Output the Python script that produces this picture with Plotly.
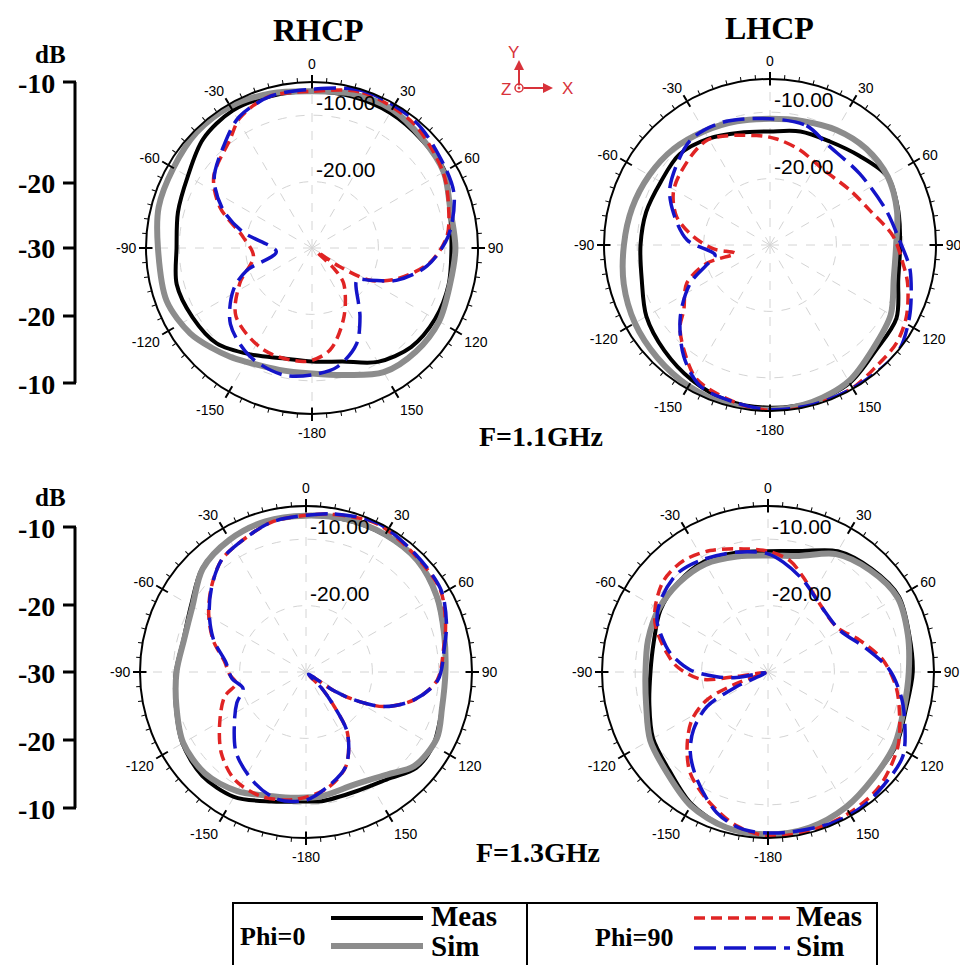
import plotly.graph_objects as go

W, H = 960, 965

# ---------------- data (dB vs angle in degrees) ----------------
STEP15 = list(range(0, 361, 15))

# RHCP 1.1 GHz
rh11_phi0_meas_t = STEP15
rh11_phi0_meas_r = [-6.4, -6.4, -6.5, -6.8, -6.9, -8.5, -9.0, -8.7, -8.6, -8.9, -10.2, -12.3, -12.9,
                    -12.8, -11.5, -9.7, -9.2, -8.9, -9.6, -9.1, -8.4, -6.8, -6.1, -6.3, -6.4]
rh11_phi0_sim_t = [0, 15, 30, 45, 60, 75, 90, 105, 120, 135, 150, 165, 180, 195, 210, 217, 225, 235,
                   250, 270, 285, 300, 315, 330, 345, 360]
rh11_phi0_sim_r = [-6.4, -6.0, -5.9, -6.6, -7.1, -8.4, -8.4, -8.5, -7.9, -7.9, -8.4, -10.2, -11.1,
                   -11.0, -10.2, -9.5, -8.7, -7.6, -6.7, -6.8, -6.1, -5.9, -5.4, -5.4, -5.9, -6.4]
rh11_phi90_meas_t = [0, 18, 39, 60, 73, 85, 97, 110, 119, 124, 128, 133, 138, 155, 170, 183, 205, 228,
                     244, 262, 279, 294, 306, 323, 331, 344, 360]
rh11_phi90_meas_r = [-6.4, -5.4, -5.8, -7.2, -8.5, -9.6, -12.1, -16.4, -20.0, -25.0, -29.0, -25.5,
                     -22.9, -18.6, -14.4, -12.9, -13.0, -14.6, -17.9, -21.1, -19.5, -14.8, -11.7,
                     -9.5, -7.6, -6.3, -6.4]
rh11_phi90_sim_t = [0, 18, 39, 55, 69, 85, 99, 111, 119, 125.6, 140, 145, 155, 168, 180, 193, 210,
                    227, 242, 251, 264, 283, 293, 305, 319, 331, 345, 360]
rh11_phi90_sim_r = [-6.1, -5.1, -5.4, -6.4, -7.1, -9.4, -12.5, -16.4, -20.0, -21.7, -19.1, -17.4,
                    -14.1, -11.7, -10.9, -10.4, -11.2, -13.2, -16.6, -19.6, -24.6, -19.3, -15.5,
                    -12.0, -9.7, -7.4, -6.3, -6.1]

# LHCP 1.1 GHz
lh11_phi0_meas_t = STEP15
lh11_phi0_meas_r = [-12.9, -12.3, -12.0, -11.0, -9.5, -10.0, -10.4, -10.0, -8.0, -7.5, -6.0, -5.5,
                    -5.5, -5.7, -6.5, -7.5, -8.5, -10.0, -10.5, -10.7, -11.0, -10.7, -11.5, -12.5,
                    -12.9]
lh11_phi0_sim_t = STEP15
lh11_phi0_sim_r = [-11.0, -10.7, -10.0, -9.5, -9.5, -10.2, -11.0, -10.7, -9.0, -8.0, -6.3, -5.5,
                   -5.2, -5.2, -5.5, -6.0, -6.5, -7.2, -8.0, -8.5, -9.0, -9.5, -10.2, -10.7, -11.0]
lh11_phi90_meas_t = [3.6, 17.5, 35.4, 55.5, 70.7, 86, 97.8, 105.5, 117.7, 127.8, 138.8, 151, 168.5,
                     180, 191.9, 208.5, 219.5, 227.8, 233, 245.3, 253.9, 256.6, 266, 276.2, 286.9,
                     298, 308.5, 329, 353, 363.6]
lh11_phi90_meas_r = [-14.0, -15.0, -16.1, -15.4, -14.1, -11.4, -9.8, -8.5, -6.8, -5.9, -5.7, -5.1,
                     -5.0, -5.1, -5.7, -6.95, -9.6, -11.7, -13.75, -16.2, -20.1, -24.6, -21.5,
                     -18.4, -15.3, -13.5, -12.7, -11.6, -13.4, -14.0]
lh11_phi90_sim_t = [0, 17, 30, 51.5, 73.3, 87.8, 98.8, 105, 117, 128.9, 138.7, 151, 165, 180, 192,
                    206.3, 217.8, 231.5, 244.4, 252.5, 259.7, 273.4, 288, 300, 322.7, 339.3, 360]
lh11_phi90_sim_r = [-11.0, -11.2, -12.6, -12.75, -11.75, -10.5, -8.75, -8.0, -6.4, -4.95, -5.0,
                    -5.1, -5.1, -5.2, -5.7, -6.3, -8.8, -12.75, -16.7, -20.0, -21.6, -17.5, -14.75,
                    -12.6, -10.2, -10.2, -11.0]

# RHCP 1.3 GHz
rh13_phi0_meas_t = [0, 15, 30, 45, 60, 75, 90, 105, 120, 131, 141.6, 156.8, 173, 180, 195, 210, 225,
                    240, 255, 270, 285, 300, 315, 330, 345, 360]
rh13_phi0_meas_r = [-6.5, -6.3, -6.2, -6.3, -7.3, -8.5, -9.0, -8.8, -7.9, -8.0, -9.6, -10.5, -10.4,
                    -10.5, -9.8, -8.3, -7.9, -8.5, -9.7, -10.4, -10.9, -10.0, -7.9, -7.0, -6.6, -6.5]
rh13_phi0_sim_t = [0, 15, 30, 45, 60, 75, 90, 105, 117, 131, 141.6, 156.8, 173, 185, 195, 210, 225,
                   240, 255, 270, 285, 300, 315, 330, 345, 360]
rh13_phi0_sim_r = [-6.45, -6.2, -6.1, -6.25, -7.25, -8.45, -9.0, -8.8, -7.9, -8.4, -10.3, -11.55,
                   -11.15, -11.0, -10.65, -9.3, -8.45, -8.65, -9.8, -10.5, -11.0, -10.25, -8.0,
                   -7.0, -6.5, -6.45]
rh13_phi90_meas_t = [0, 10.3, 25.7, 43.3, 58.7, 70.8, 79.6, 93.5, 104.5, 113.9, 120, 124, 130, 136,
                     140.7, 145.8, 157, 169.4, 185.2, 199.8, 213.6, 226.3, 239.4, 253.2, 260.8,
                     268, 277.2, 289, 301, 311.9, 322.8, 332, 346.9, 360]
rh13_phi90_meas_r = [-6.4, -5.9, -5.25, -5.95, -6.3, -7.75, -8.9, -10.2, -13.2, -17.15, -21.6,
                     -25.0, -29.5, -26.5, -23.3, -18.9, -14.6, -12.25, -10.7, -10.1, -10.55,
                     -12.35, -14.9, -17.2, -19.35, -18.5, -17.65, -15.2, -12.9, -10.85, -8.9,
                     -8.15, -6.85, -6.4]
rh13_phi90_sim_t = [0, 10.3, 25.7, 43.3, 58.7, 70.8, 79.6, 93.5, 104.5, 113.9, 120, 124, 130, 136,
                    140.7, 145.8, 157, 169.4, 180, 192.5, 204.9, 220.7, 236.2, 246, 255.5, 265,
                    277.2, 289, 301, 311.9, 322.8, 332, 346.9, 360]
rh13_phi90_sim_r = [-6.4, -5.8, -5.1, -5.8, -6.2, -7.6, -8.8, -10.1, -13.2, -17.15, -21.6, -25.0,
                    -29.5, -26.5, -23.3, -18.9, -14.6, -12.4, -10.7, -10.35, -11.6, -13.9, -17.05,
                    -18.6, -20.2, -18.8, -17.8, -15.3, -13.0, -10.9, -8.9, -8.15, -6.85, -6.4]

# LHCP 1.3 GHz
lh13_phi0_meas_t = STEP15
lh13_phi0_meas_r = [-11.8, -11.15, -9.0, -8.0, -7.25, -8.0, -8.2, -8.5, -7.75, -7.5, -6.5, -5.75,
                    -5.55, -5.75, -7.0, -9.0, -10.0, -11.5, -12.3, -12.2, -11.3, -10.9, -10.8,
                    -11.4, -11.8]
lh13_phi0_sim_t = STEP15
lh13_phi0_sim_r = [-12.45, -11.9, -9.5, -8.3, -7.5, -8.2, -8.8, -8.8, -8.0, -7.5, -6.5, -5.75,
                   -5.55, -5.75, -6.75, -8.5, -9.5, -11.0, -11.55, -11.3, -11.0, -11.0, -11.2,
                   -12.0, -12.45]
lh13_phi90_meas_t = [0, 11.1, 20.3, 37.1, 56.6, 70.8, 84, 96.5, 107.4, 119.8, 135.7, 149.9, 165.3,
                     180, 191.5, 205.6, 217.6, 227.4, 237.8, 245.5, 250, 254, 259, 262, 264, 273.3,
                     280.4, 292, 300, 311.3, 322.9, 334.6, 348.7, 360]
lh13_phi90_meas_r = [-11.8, -12.9, -14.75, -17.1, -17.65, -15.4, -12.6, -10.6, -9.25, -7.45, -5.95,
                     -5.5, -5.25, -5.3, -6.35, -8.7, -10.8, -13.45, -16.45, -19.9, -25.0, -29.5,
                     -29.5, -25.0, -19.75, -16.3, -14.55, -11.75, -10.4, -9.1, -8.95, -9.75,
                     -11.1, -11.8]
lh13_phi90_sim_t = [0, 7.9, 21, 39.4, 59.7, 76.5, 89, 100.5, 109.3, 122, 134.8, 144.7, 156.6, 174.6,
                    188.9, 200, 213.4, 223.8, 232.2, 240.5, 245, 249, 256, 260, 264.8, 271.5,
                    280.8, 289.7, 295, 303.7, 317.2, 328.7, 345.4, 360]
lh13_phi90_sim_r = [-12.2, -13.3, -15.2, -17.3, -17.5, -14.8, -11.7, -9.6, -8.2, -6.05, -5.6,
                    -5.25, -5.3, -5.7, -6.0, -7.45, -10.6, -13.1, -15.8, -19.45, -24.8, -29.5,
                    -29.5, -25.2, -22.25, -18.3, -15.05, -12.8, -11.55, -10.55, -9.85, -10.35,
                    -11.35, -12.2]

ANG_TICKS = list(range(0, 360, 30))
ANG_LABELS = ["0", "30", "60", "90", "120", "150", "-180", "-150", "-120", "-90", "-60", "-30"]
RAD_TICKS = [-20, -10]
RAD_LABELS = ["-20.00", "-10.00"]
R_RANGE = [-30, -5]
SCALE_LABELS = ["-10", "-20", "-30", "-20", "-10"]
TITLES = ["RHCP", "LHCP"]
FREQS = ["F=1.1GHz", "F=1.3GHz"]

# ---------------- styling ----------------
C_MEAS0, C_SIM0, C_MEAS90, C_SIM90 = "#000000", "#8c8c8c", "#e02424", "#1414c8"
STYLE = {
    "m0": dict(color=C_MEAS0, width=4, dash="solid"),
    "s0": dict(color=C_SIM0, width=6, dash="solid"),
    "m90": dict(color=C_MEAS90, width=3.5, dash="11px,6px"),
    "s90": dict(color=C_SIM90, width=3.5, dash="22px,8px"),
}

PLOTS = [
    dict(cx=312, cy=248, data=[(rh11_phi0_meas_t, rh11_phi0_meas_r, "m0"), (rh11_phi0_sim_t, rh11_phi0_sim_r, "s0"),
                               (rh11_phi90_meas_t, rh11_phi90_meas_r, "m90"), (rh11_phi90_sim_t, rh11_phi90_sim_r, "s90")]),
    dict(cx=770, cy=245, data=[(lh11_phi0_meas_t, lh11_phi0_meas_r, "m0"), (lh11_phi0_sim_t, lh11_phi0_sim_r, "s0"),
                               (lh11_phi90_meas_t, lh11_phi90_meas_r, "m90"), (lh11_phi90_sim_t, lh11_phi90_sim_r, "s90")]),
    dict(cx=306, cy=672, data=[(rh13_phi0_meas_t, rh13_phi0_meas_r, "m0"), (rh13_phi0_sim_t, rh13_phi0_sim_r, "s0"),
                               (rh13_phi90_meas_t, rh13_phi90_meas_r, "m90"), (rh13_phi90_sim_t, rh13_phi90_sim_r, "s90")]),
    dict(cx=768, cy=672, data=[(lh13_phi0_meas_t, lh13_phi0_meas_r, "m0"), (lh13_phi0_sim_t, lh13_phi0_sim_r, "s0"),
                               (lh13_phi90_meas_t, lh13_phi90_meas_r, "m90"), (lh13_phi90_sim_t, lh13_phi90_sim_r, "s90")]),
]
R_PX = 166


def px(x):
    return x / W


def py(y):
    return 1 - y / H


def dom(cx, cy):
    return dict(x=[px(cx - R_PX), px(cx + R_PX)], y=[py(cy + R_PX), py(cy - R_PX)])


def radius_px(v):
    return (v - R_RANGE[0]) / (R_RANGE[1] - R_RANGE[0]) * R_PX


fig = go.Figure()
layout = {}
ARIAL = "Liberation Sans, Arial, sans-serif"
TIMES = "Liberation Serif, Times New Roman, serif"
annotations = []
shapes = []


def text(x, y, s, size, family=TIMES, color="black", xanchor="center", yanchor="middle"):
    annotations.append(dict(x=px(x), y=py(y), xref="paper", yref="paper", text=s, showarrow=False,
                            xanchor=xanchor, yanchor=yanchor,
                            font=dict(family=family, size=size, color=color)))


for i, p in enumerate(PLOTS):
    main = "polar" if i == 0 else f"polar{i + 1}"
    minor = f"polar{i + 5}"
    inner = f"polar{i + 9}"
    for t, r, key in p["data"]:
        fig.add_trace(go.Scatterpolar(theta=t, r=r, mode="lines", subplot=main,
                                      line=dict(shape="spline", smoothing=0.9, **STYLE[key]),
                                      showlegend=False, hoverinfo="skip"))
    for sp in (minor, inner):
        fig.add_trace(go.Scatterpolar(theta=[], r=[], mode="lines", subplot=sp, showlegend=False))
    common_ang = dict(rotation=90, direction="clockwise")
    layout[main] = dict(
        domain=dom(p["cx"], p["cy"]), bgcolor="white",
        angularaxis=dict(**common_ang, tickmode="array", tickvals=ANG_TICKS, ticktext=ANG_LABELS,
                         ticks="outside", ticklen=6, tickwidth=1.5, tickcolor="black",
                         showline=True, linecolor="black", linewidth=2,
                         showgrid=True, gridcolor="#d4d4d4", gridwidth=1, griddash="dash",
                         tickfont=dict(family=ARIAL, size=14, color="black")),
        radialaxis=dict(range=R_RANGE, tickmode="array", tickvals=RAD_TICKS, showticklabels=False,
                        angle=90, showline=False, ticks="",
                        showgrid=True, gridcolor="#d4d4d4", gridwidth=1, griddash="dash"),
    )
    layout[minor] = dict(
        domain=dom(p["cx"], p["cy"]), bgcolor="rgba(0,0,0,0)",
        angularaxis=dict(**common_ang, tickmode="array", tickvals=list(range(0, 360, 5)),
                         ticks="outside", ticklen=4, tickwidth=1.2, tickcolor="black",
                         showticklabels=False, showline=False, showgrid=False),
        radialaxis=dict(visible=False, range=R_RANGE),
    )
    layout[inner] = dict(
        domain=dom(p["cx"], p["cy"]), bgcolor="rgba(0,0,0,0)",
        angularaxis=dict(**common_ang, tickmode="array", tickvals=ANG_TICKS,
                         ticks="inside", ticklen=6, tickwidth=1.5, tickcolor="black",
                         showticklabels=False, showline=False, showgrid=False),
        radialaxis=dict(visible=False, range=R_RANGE),
    )
    # radial tick labels, sitting just above their grid circle, right of the vertical axis
    for v, lab in zip(RAD_TICKS, RAD_LABELS):
        text(p["cx"] + 2, p["cy"] - radius_px(v) + 1, lab, 21, family=ARIAL,
             xanchor="left", yanchor="bottom")

# titles
text(318, 30, f"<b>{TITLES[0]}</b>", 32)
text(769, 28, f"<b>{TITLES[1]}</b>", 32)
text(541, 437, f"<b>{FREQS[0]}</b>", 28)
text(538, 852, f"<b>{FREQS[1]}</b>", 28)

# dB scale bars
for ys, ydb in (([82, 183, 248, 316, 383], 54), ([527, 605, 672, 740, 808], 498)):
    text(50, ydb, "<b>dB</b>", 25)
    shapes.append(dict(type="line", xref="paper", yref="paper", x0=px(75), x1=px(75),
                       y0=py(ys[0]), y1=py(ys[-1]), line=dict(color="black", width=3)))
    for yy, lab in zip(ys, SCALE_LABELS):
        shapes.append(dict(type="line", xref="paper", yref="paper", x0=px(63), x1=px(76),
                           y0=py(yy), y1=py(yy), line=dict(color="black", width=3)))
        text(57, yy + 1, f"<b>{lab}</b>", 28, xanchor="right")

# coordinate icon
RED = "#d8323a"
annotations.append(dict(x=px(519), y=py(60), xref="paper", yref="paper", ax=0, ay=27, text="",
                        showarrow=True, arrowhead=2, arrowsize=1, arrowwidth=2, arrowcolor=RED))
annotations.append(dict(x=px(553), y=py(88), xref="paper", yref="paper", ax=-31, ay=0, text="",
                        showarrow=True, arrowhead=2, arrowsize=1, arrowwidth=2, arrowcolor=RED))
shapes.append(dict(type="circle", xref="paper", yref="paper", x0=px(515), x1=px(523),
                   y0=py(92), y1=py(84), line=dict(color=RED, width=1.5), fillcolor="white"))
shapes.append(dict(type="circle", xref="paper", yref="paper", x0=px(518), x1=px(520),
                   y0=py(89), y1=py(87), line=dict(color=RED, width=1), fillcolor=RED))
for txt, x, y in (("Y", 513, 52), ("Z", 506, 89), ("X", 567, 88)):
    text(x, y, txt, 17, family=ARIAL, color=RED)

# legend table
shapes.append(dict(type="rect", xref="paper", yref="paper", x0=px(233), x1=px(877),
                   y0=py(975), y1=py(903), line=dict(color="black", width=2)))
shapes.append(dict(type="line", xref="paper", yref="paper", x0=px(527), x1=px(527),
                   y0=py(975), y1=py(903), line=dict(color="black", width=2)))
LEG = [("m0", 331, 423, 918), ("s0", 331, 423, 946), ("m90", 694, 790, 918), ("s90", 694, 790, 948)]
for key, x0, x1, yy in LEG:
    st = STYLE[key]
    shapes.append(dict(type="line", xref="paper", yref="paper", x0=px(x0), x1=px(x1), y0=py(yy),
                       y1=py(yy), line=dict(color=st["color"], width=st["width"], dash=st["dash"])))
text(272, 936, "<b>Phi=0</b>", 26)
text(634, 937, "<b>Phi=90</b>", 26)
for txt, x, y in (("Meas", 429, 916), ("Sim", 429, 946), ("Meas", 794, 916), ("Sim", 794, 946)):
    text(x, y, f"<b>{txt}</b>", 29, xanchor="left")

fig.update_layout(width=W, height=H, margin=dict(l=0, r=0, t=0, b=0), paper_bgcolor="white",
                  showlegend=False, shapes=shapes, annotations=annotations, **layout)
fig.write_html("out.html", config={"displayModeBar": False},
               post_script="document.body.style.margin='0px';")
